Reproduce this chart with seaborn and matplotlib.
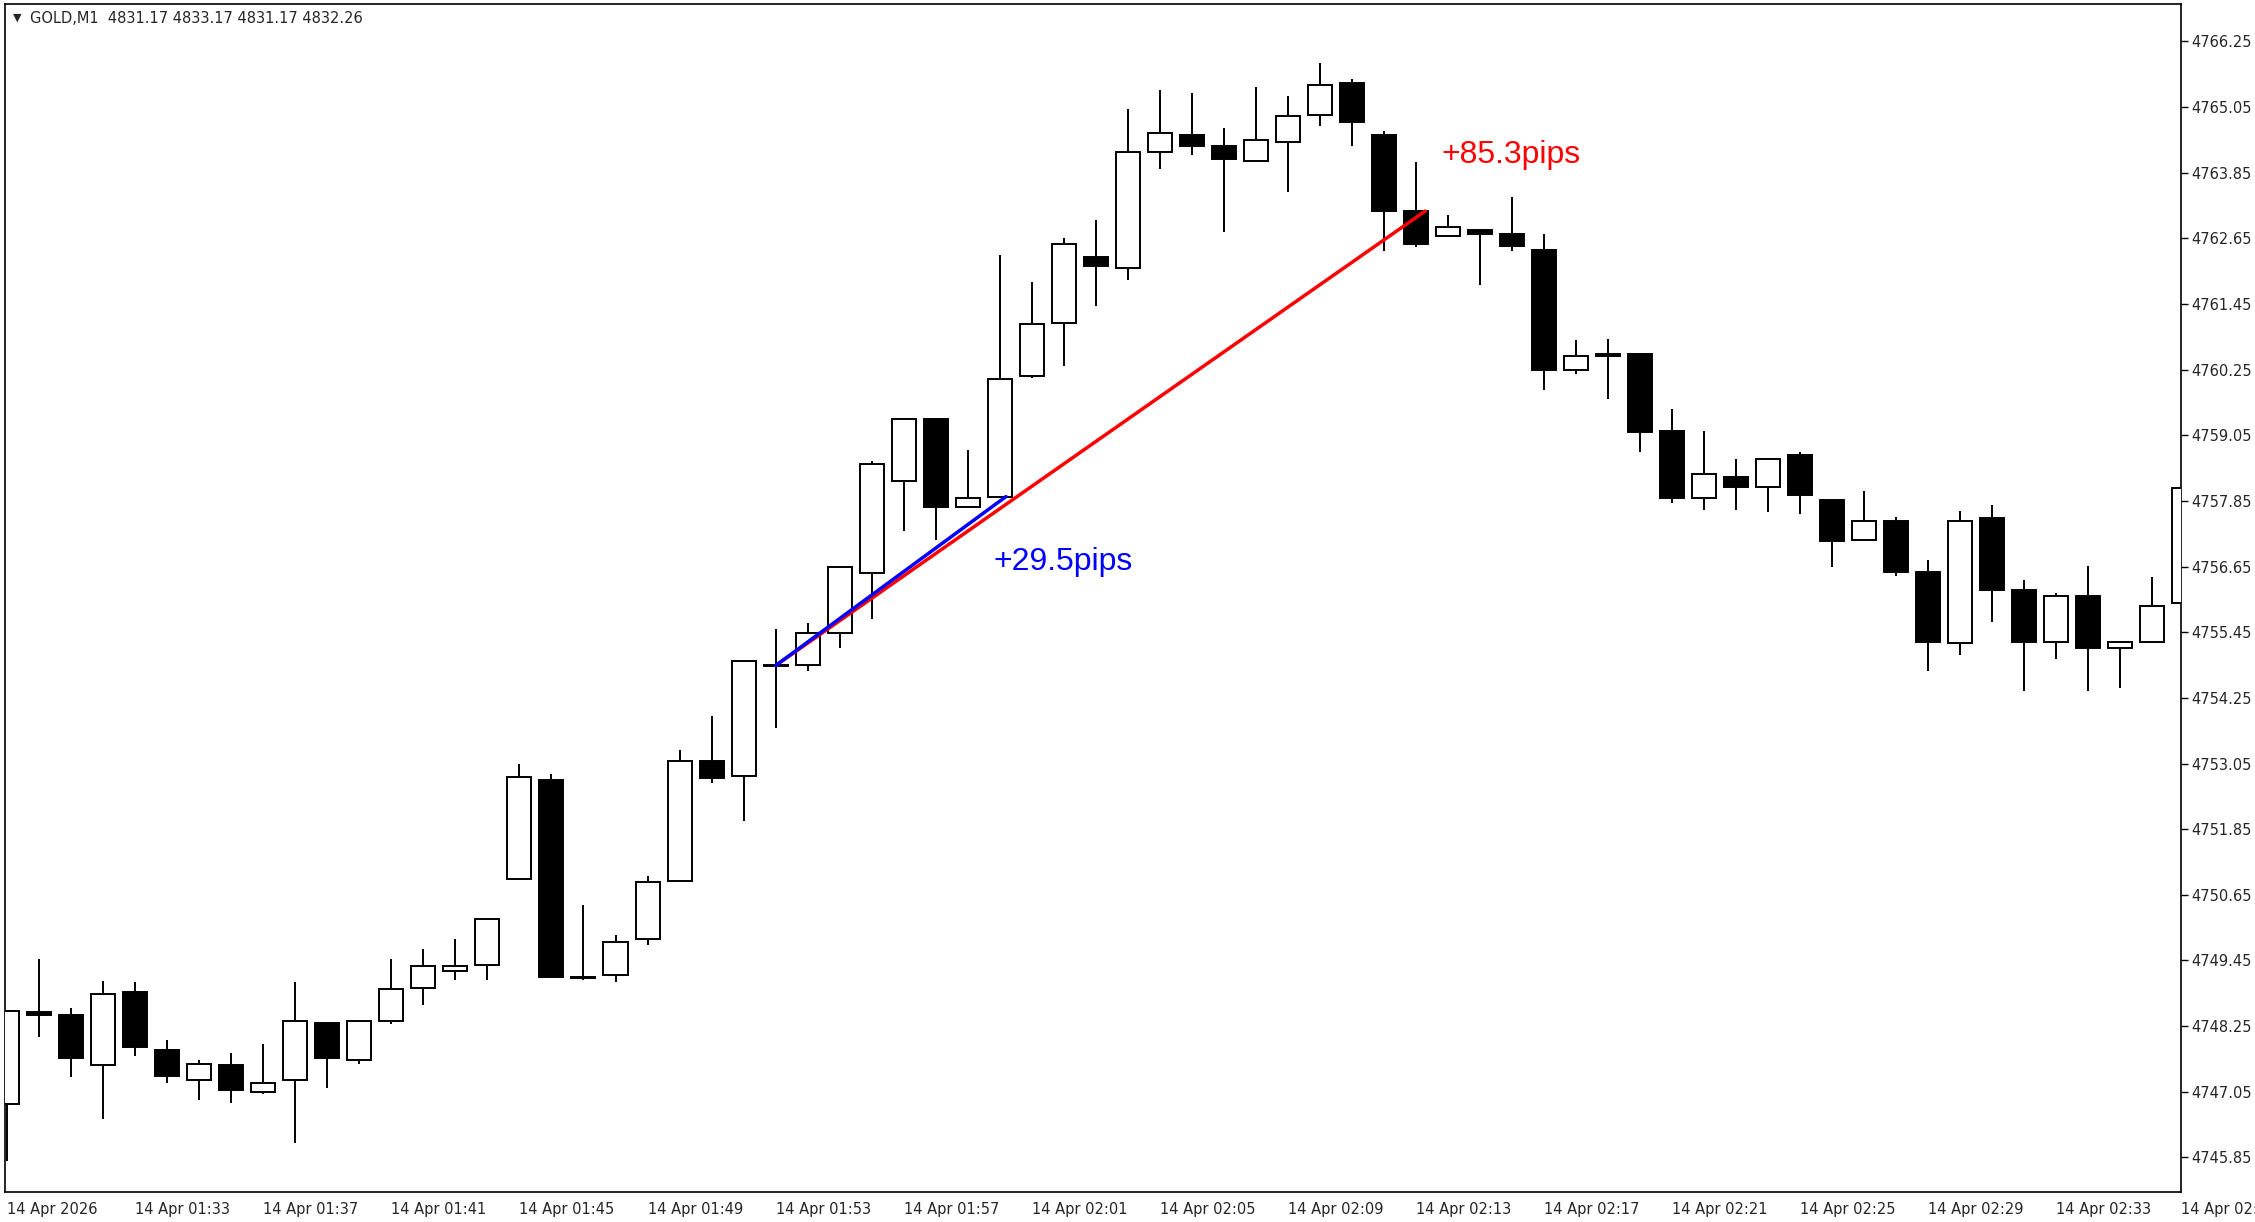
import numpy as np
import pandas as pd
import matplotlib
matplotlib.use("Agg")
import matplotlib.pyplot as plt
import seaborn as sns

# =============================================================================
# Candle data (GOLD M1, 14 Apr 01:29 - 02:37)
# =============================================================================
opens = [4746.82, 4748.50, 4748.45, 4747.53, 4748.87, 4747.82, 4747.26, 4747.53, 4747.05, 4747.26,
         4748.31, 4747.63, 4748.34, 4748.94, 4749.26, 4749.36, 4750.94, 4752.75, 4749.13, 4749.18,
         4749.84, 4750.91, 4753.09, 4752.83, 4754.83, 4754.85, 4755.43, 4756.53, 4758.21, 4759.34,
         4757.74, 4757.93, 4760.13, 4761.10, 4762.31, 4762.10, 4764.23, 4764.54, 4764.33, 4764.07,
         4764.41, 4764.91, 4765.49, 4764.54, 4763.15, 4762.70, 4762.81, 4762.73, 4762.44, 4760.24,
         4760.50, 4760.53, 4759.13, 4757.90, 4758.29, 4758.11, 4758.69, 4757.87, 4757.14, 4757.48,
         4756.56, 4755.25, 4757.53, 4756.22, 4755.27, 4756.11, 4755.17, 4755.27, 4755.98]
highs = [4748.52, 4749.47, 4748.58, 4749.08, 4749.05, 4748.00, 4747.63, 4747.76, 4747.92, 4749.05,
         4748.31, 4748.34, 4749.47, 4749.65, 4749.84, 4750.21, 4753.04, 4752.86, 4750.47, 4749.92,
         4750.99, 4753.30, 4753.91, 4754.93, 4755.51, 4755.61, 4756.64, 4758.58, 4759.37, 4759.37,
         4758.79, 4762.34, 4761.86, 4762.65, 4762.99, 4765.02, 4765.36, 4765.30, 4764.67, 4765.41,
         4765.25, 4765.86, 4765.57, 4764.62, 4764.04, 4763.07, 4762.83, 4763.41, 4762.73, 4760.79,
         4760.81, 4760.55, 4759.53, 4759.13, 4758.61, 4758.61, 4758.74, 4757.87, 4758.03, 4757.56,
         4756.77, 4757.66, 4757.77, 4756.40, 4756.16, 4756.67, 4755.27, 4756.46, 4758.35]
lows = [4745.79, 4748.05, 4747.32, 4746.55, 4747.71, 4747.21, 4746.90, 4746.84, 4747.00, 4746.11,
        4747.11, 4747.55, 4748.29, 4748.63, 4749.10, 4749.10, 4750.94, 4749.15, 4749.10, 4749.05,
        4749.73, 4750.91, 4752.70, 4751.99, 4753.70, 4754.75, 4755.17, 4755.69, 4757.30, 4757.14,
        4757.74, 4757.93, 4760.10, 4760.32, 4761.42, 4761.89, 4763.91, 4764.18, 4762.76, 4764.07,
        4763.49, 4764.70, 4764.33, 4762.42, 4762.49, 4762.68, 4761.79, 4762.42, 4759.87, 4760.18,
        4759.71, 4758.74, 4757.82, 4757.69, 4757.69, 4757.64, 4757.61, 4756.64, 4757.11, 4756.48,
        4754.75, 4755.04, 4755.64, 4754.38, 4754.96, 4754.38, 4754.43, 4755.25, 4755.98]
closes = [4748.52, 4748.45, 4747.66, 4748.84, 4747.87, 4747.34, 4747.55, 4747.08, 4747.21, 4748.34,
          4747.66, 4748.34, 4748.92, 4749.34, 4749.34, 4750.21, 4752.80, 4749.15, 4749.12, 4749.78,
          4750.89, 4753.09, 4752.78, 4754.93, 4754.84, 4755.43, 4756.64, 4758.53, 4759.34, 4757.74,
          4757.90, 4760.08, 4761.08, 4762.55, 4762.15, 4764.23, 4764.57, 4764.33, 4764.10, 4764.44,
          4764.88, 4765.46, 4764.78, 4763.15, 4762.55, 4762.86, 4762.73, 4762.52, 4760.24, 4760.50,
          4760.52, 4759.11, 4757.90, 4758.35, 4758.11, 4758.61, 4757.95, 4757.11, 4757.48, 4756.56,
          4755.27, 4757.48, 4756.22, 4755.27, 4756.11, 4755.17, 4755.27, 4755.93, 4758.08]

tick_labels = ["14 Apr 2026", "14 Apr 01:33", "14 Apr 01:37", "14 Apr 01:41", "14 Apr 01:45",
               "14 Apr 01:49", "14 Apr 01:53", "14 Apr 01:57", "14 Apr 02:01", "14 Apr 02:05",
               "14 Apr 02:09", "14 Apr 02:13", "14 Apr 02:17", "14 Apr 02:21", "14 Apr 02:25",
               "14 Apr 02:29", "14 Apr 02:33", "14 Apr 02:37"]
price_ticks = [4766.25, 4765.05, 4763.85, 4762.65, 4761.45, 4760.25, 4759.05, 4757.85, 4756.65,
               4755.45, 4754.25, 4753.05, 4751.85, 4750.65, 4749.45, 4748.25, 4747.05, 4745.85]

# trend lines (bar index, price)
red_line = {"x": [24, 44.3], "y": [4754.84, 4763.15]}
blue_line = {"x": [24, 31.2], "y": [4754.84, 4757.93]}

df = pd.DataFrame({"open": opens, "high": highs, "low": lows, "close": closes})
df["i"] = np.arange(len(df))
df["up"] = df["close"] >= df["open"]

# =============================================================================
# Plot
# =============================================================================
sns.set_style("white")
plt.rcParams['font.family'] = ['Liberation Sans', 'DejaVu Sans']

fig = plt.figure(figsize=(22.55, 12.22), dpi=100)
ax = fig.add_axes([0.002, 0.0247, 0.965, 0.9718])

ax.vlines(df["i"], df["low"], df["high"], color="black", lw=1.4, zorder=2)
body_lo = df[["open", "close"]].min(axis=1)
body_h = (df["close"] - df["open"]).abs().clip(lower=0.03)
ax.bar(df["i"], body_h, bottom=body_lo, width=0.75,
       color=np.where(df["up"], "white", "black"), edgecolor="black", lw=1.4, zorder=3)

sns.lineplot(x=red_line["x"], y=red_line["y"], color="red", lw=2.5, ax=ax, zorder=4)
sns.lineplot(x=blue_line["x"], y=blue_line["y"], color="blue", lw=2.5, ax=ax, zorder=4)
ax.text(44.8, 4764.18, "+85.3pips", color="red", fontsize=23, va="center", ha="left")
ax.text(30.8, 4756.74, "+29.5pips", color="blue", fontsize=23, va="center", ha="left")

ax.set_xlim(-0.09, 67.9)
ax.set_ylim(4745.22, 4766.93)

ax.set_xticks(list(range(0, 68, 4)) + [67.9])
ax.set_xticklabels(tick_labels, ha="left", fontsize=10.5, family="DejaVu Sans")
ax.yaxis.tick_right()
ax.set_yticks(price_ticks)
ax.set_yticklabels([f"{p:.2f}" for p in price_ticks], fontsize=10.5, family="DejaVu Sans")
ax.tick_params(axis="both", direction="out", length=5, width=1, color="black", pad=3)
ax.tick_params(axis="x", pad=2)
for s in ax.spines.values():
    s.set_color("black")
    s.set_linewidth(1.2)

ax.text(0.004, 0.993, "\u25BC", transform=ax.transAxes, fontsize=8, va="top", ha="left",
        family="DejaVu Sans")
ax.text(0.0115, 0.994, "GOLD,M1  4831.17 4833.17 4831.17 4832.26", transform=ax.transAxes,
        fontsize=10.5, va="top", ha="left", family="DejaVu Sans")

fig.savefig("out.png", dpi=100, facecolor="white")
